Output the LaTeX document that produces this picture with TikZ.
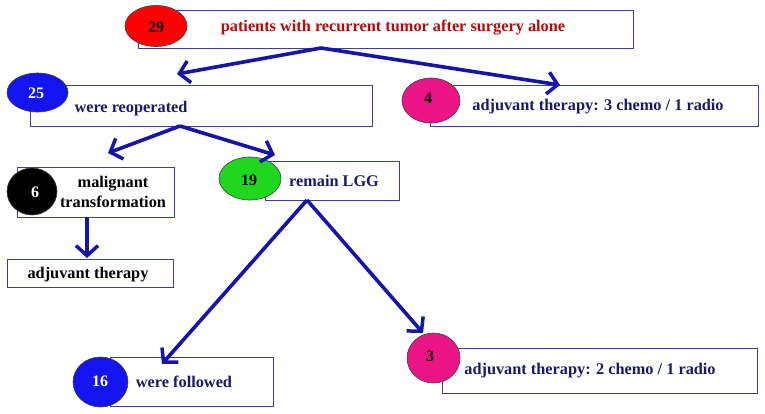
\documentclass[tikz,border=0pt]{standalone}
\usepackage{xcolor}
\usepackage{fontspec}
\setmainfont{Liberation Serif}
\usepackage{tikz}
\usetikzlibrary{arrows.meta,shapes.geometric}

\definecolor{boxline}{RGB}{60,60,170}
\definecolor{arrowblue}{RGB}{20,20,175}
\definecolor{navytext}{RGB}{25,25,110}
\definecolor{darkred}{RGB}{185,10,10}
\definecolor{pinkfill}{RGB}{235,20,135}
\definecolor{bluefill}{RGB}{20,20,240}
\definecolor{greenfill}{RGB}{30,215,30}

\tikzset{
  box/.style={draw=boxline, line width=1pt, fill=white, inner sep=0pt},
  numoval/.style={ellipse, draw=black!75, line width=0.6pt, inner sep=0pt, font=\fontsize{16}{18}\selectfont\bfseries},
  txt/.style={font=\fontsize{16.3}{19.5}\selectfont\bfseries, text=navytext, inner sep=0pt, align=center},
  flow/.style={-{Straight Barb[length=10pt,width=22pt,line width=3.5pt]}, line width=3.6pt, draw=arrowblue}
}

\begin{document}
\begin{tikzpicture}[x=1pt,y=-1pt]
\useasboundingbox (0,0) rectangle (765,413);
%Boxes
\node [box, minimum width=495pt, minimum height=38pt] (topbox) at (385.5,29) {};
\node [box, minimum width=342pt, minimum height=41pt] (reopbox) at (201,105.5) {};
\node [box, minimum width=328pt, minimum height=41pt] (adjtopbox) at (594,105.5) {};
\node [box, minimum width=157pt, minimum height=50pt] (malbox) at (95.5,192) {};
\node [box, minimum width=166pt, minimum height=28pt] (adjmalbox) at (90,273) {};
\node [box, minimum width=134pt, minimum height=39pt] (lggbox) at (332,180.5) {};
\node [box, minimum width=163pt, minimum height=49pt] (follbox) at (191.5,381.5) {};
\node [box, minimum width=315pt, minimum height=45pt] (adjlggbox) at (599.5,370.5) {};
%Ovals
\node [numoval, fill=red, minimum width=62pt, minimum height=41pt] (n29) at (156,26) {};
\node [numoval, fill=bluefill, minimum width=61pt, minimum height=39pt] (n25) at (37.5,92.5) {};
\node [numoval, fill=pinkfill, minimum width=58pt, minimum height=45pt] (n4) at (431,100.5) {};
\node [numoval, fill=black, minimum width=50pt, minimum height=47pt] (n6) at (32,191.5) {};
\node [numoval, fill=greenfill, minimum width=62pt, minimum height=43pt] (n19) at (250,178.5) {};
\node [numoval, fill=bluefill, minimum width=55pt, minimum height=50pt] (n16) at (100.5,382) {};
\node [numoval, fill=pinkfill, minimum width=53pt, minimum height=50pt] (n3) at (433.5,358) {};
%Arrows
\coordinate (topout) at (321,48);
\coordinate (reopin) at (177,74);
\coordinate (adjtopin) at (560,85);
\coordinate (reopout) at (180,126);
\coordinate (malin) at (108,153);
\coordinate (lggin) at (275,155);
\coordinate (malout) at (87,217);
\coordinate (adjmalin) at (87,258);
\coordinate (lggout) at (307,200);
\coordinate (follin) at (162,364);
\coordinate (adjlggin) at (423,333);
\draw [flow] (topout) -- (reopin);
\draw [flow] (topout) -- (adjtopin);
\draw [flow] (reopout) -- (malin);
\draw [flow] (reopout) -- (lggin);
\draw [flow] (malout) -- (adjmalin);
\draw [flow] (lggout) -- (follin);
\draw [flow] (lggout) -- (adjlggin);
%Text
\node [numoval, draw=none, text=black] (t29) at (156,27) {29};
\node [txt, text=darkred] (ttop) at (393,28) {patients with recurrent tumor after surgery alone};
\node [numoval, draw=none, text=white] (t25) at (36,93) {25};
\node [txt] (treop) at (131,109) {were reoperated};
\node [numoval, draw=none, text=black] (t4) at (428,98) {4};
\node [txt] (tadjtop) at (598,107) {adjuvant therapy: 3 chemo / 1 radio};
\node [numoval, draw=none, text=white] (t6) at (35,192) {6};
\node [txt, text=black] (tmal) at (113,192) {malignant\\transformation};
\node [txt, text=black] (tadjmal) at (88,275) {adjuvant therapy};
\node [numoval, draw=none, text=black] (t19) at (249,180) {19};
\node [txt] (tlgg) at (334,181) {remain LGG};
\node [numoval, draw=none, text=white] (t16) at (100,381) {16};
\node [txt] (tfoll) at (184,382) {were followed};
\node [numoval, draw=none, text=black] (t3) at (430,356) {3};
\node [txt] (tadjlgg) at (590,371) {adjuvant therapy: 2 chemo / 1 radio};
\end{tikzpicture}
\end{document}
